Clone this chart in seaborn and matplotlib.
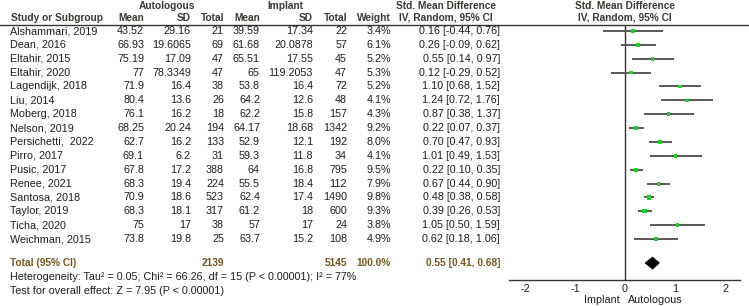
import matplotlib
matplotlib.use('Agg')
import matplotlib.pyplot as plt
import seaborn as sns
import pandas as pd
import numpy as np

# Study data
studies = ['Alshammari, 2019', 'Dean, 2016', 'Eltahir, 2015', 'Eltahir, 2020', 'Lagendijk, 2018',
           'Liu, 2014', 'Moberg, 2018', 'Nelson, 2019', 'Persichetti,  2022', 'Pirro, 2017',
           'Pusic, 2017', 'Renee, 2021', 'Santosa, 2018', 'Taylor, 2019', 'Ticha, 2020', 'Weichman, 2015']
auto_mean = [43.52, 66.93, 75.19, 77, 71.9, 80.4, 76.1, 68.25, 62.7, 69.1, 67.8, 68.3, 70.9, 68.3, 75, 73.8]
auto_sd = [29.16, 19.6065, 17.09, 78.3349, 16.4, 13.6, 16.2, 20.24, 16.2, 6.2, 17.2, 19.4, 18.6, 18.1, 17, 19.8]
auto_n = [21, 69, 47, 47, 38, 26, 18, 194, 133, 31, 388, 224, 523, 317, 38, 25]
imp_mean = [39.59, 61.68, 65.51, 65, 53.8, 64.2, 62.2, 64.17, 52.9, 59.3, 64, 55.5, 62.4, 61.2, 57, 63.7]
imp_sd = [17.34, 20.0878, 17.55, 119.2053, 16.4, 12.6, 15.8, 18.68, 12.1, 11.8, 16.8, 18.4, 17.4, 18, 17, 15.2]
imp_n = [22, 57, 45, 47, 72, 48, 157, 1342, 192, 34, 795, 112, 1490, 600, 24, 108]
weight = [3.4, 6.1, 5.2, 5.3, 5.2, 4.1, 4.3, 9.2, 8.0, 4.1, 9.5, 7.9, 9.8, 9.3, 3.8, 4.9]
smd = [0.16, 0.26, 0.55, 0.12, 1.10, 1.24, 0.87, 0.22, 0.70, 1.01, 0.22, 0.67, 0.48, 0.39, 1.05, 0.62]
ci_lo = [-0.44, -0.09, 0.14, -0.29, 0.68, 0.72, 0.38, 0.07, 0.47, 0.49, 0.10, 0.44, 0.38, 0.26, 0.50, 0.18]
ci_hi = [0.76, 0.62, 0.97, 0.52, 1.52, 1.76, 1.37, 0.37, 0.93, 1.53, 0.35, 0.90, 0.58, 0.53, 1.59, 1.06]

total_auto = 2139
total_imp = 5145
total_smd = 0.55
total_lo = 0.41
total_hi = 0.68
heterogeneity = 'Heterogeneity: Tau\u00b2 = 0.05; Chi\u00b2 = 66.26, df = 15 (P < 0.00001); I\u00b2 = 77%'
overall = 'Test for overall effect: Z = 7.95 (P < 0.00001)'
x_ticks = [-2, -1, 0, 1, 2]

df = pd.DataFrame({'study': studies, 'smd': smd, 'lo': ci_lo, 'hi': ci_hi, 'weight': weight})
df['row'] = np.arange(len(df))
total_row = 16.73

# Layout (pixels)
W, H = 749, 306
row0_px, row_step = 31, 13.87
def row_px(r):
    return row0_px + row_step * r

sns.set_style('white')
plt.rcParams['font.family'] = ['Liberation Sans', 'DejaVu Sans']
fs = 7.75
fsb = 7.3
txt_col = '#1e1e1e'
head_col = '#3a3a34'
tot_col = '#74581f'

def btext(ax, x, y, s, ha, color):
    ax.text(x, y, s, ha=ha, va='center', fontsize=fsb, fontweight='bold', color=color)

fig = plt.figure(figsize=(W / 100, H / 100), dpi=100, facecolor='white')

# Table axes in pixel coordinates
ax_t = fig.add_axes([0, 0, 1, 1])
ax_t.set_xlim(0, W)
ax_t.set_ylim(H, 0)
ax_t.axis('off')

# Headers
btext(ax_t, 167, 6, 'Autologous', 'center', head_col)
btext(ax_t, 285, 6, 'Implant', 'center', head_col)
btext(ax_t, 446, 6, 'Std. Mean Difference', 'center', head_col)
btext(ax_t, 446, 18, 'IV, Random, 95% CI', 'center', head_col)
btext(ax_t, 625, 6, 'Std. Mean Difference', 'center', head_col)
btext(ax_t, 625, 18, 'IV, Random, 95% CI', 'center', head_col)
btext(ax_t, 11, 18, 'Study or Subgroup', 'left', head_col)
col_right = [144, 191, 224, 260, 313, 347, 391]
col_names = ['Mean', 'SD', 'Total', 'Mean', 'SD', 'Total', 'Weight']
for xr, name in zip(col_right, col_names):
    btext(ax_t, xr, 18, name, 'right', head_col)
ax_t.plot([0, W], [25, 25], color='#333333', lw=1)

# Study rows
for i in range(len(studies)):
    y = row_px(i)
    ax_t.text(10, y, studies[i], ha='left', va='center', fontsize=fs, color=txt_col)
    vals = [str(auto_mean[i]), str(auto_sd[i]), str(auto_n[i]), str(imp_mean[i]),
            str(imp_sd[i]), str(imp_n[i]), f'{weight[i]:.1f}%']
    for xr, v in zip(col_right, vals):
        ax_t.text(xr, y, v, ha='right', va='center', fontsize=fs, color=txt_col)
    ax_t.text(500, y, f'{smd[i]:.2f} [{ci_lo[i]:.2f}, {ci_hi[i]:.2f}]',
              ha='right', va='center', fontsize=fs, color=txt_col)

# Total row
yt = row_px(total_row)
btext(ax_t, 10, yt, 'Total (95% CI)', 'left', tot_col)
btext(ax_t, 224, yt, str(total_auto), 'right', tot_col)
btext(ax_t, 347, yt, str(total_imp), 'right', tot_col)
btext(ax_t, 391, yt, '100.0%', 'right', tot_col)
btext(ax_t, 500, yt, f'{total_smd:.2f} [{total_lo:.2f}, {total_hi:.2f}]', 'right', tot_col)
ax_t.text(10, 277, heterogeneity, ha='left', va='center', fontsize=fs, color=txt_col)
ax_t.text(10, 291, overall, ha='left', va='center', fontsize=fs, color=txt_col)

# Forest plot axes
x_left, x_right, y_top, y_bot = 509, 740, 25, 280
ax_f = fig.add_axes([x_left / W, 1 - y_bot / H, (x_right - x_left) / W, (y_bot - y_top) / H])
ax_f.set_facecolor('none')
ax_f.set_xlim(-2.32, 2.3)
ax_f.set_ylim((y_bot - row0_px) / row_step, (y_top - row0_px) / row_step)

ax_f.hlines(df['row'], df['lo'], df['hi'], color='#595959', lw=1.4, zorder=2)
sns.scatterplot(data=df, x='smd', y='row', size='weight', sizes=(6, 9), marker='s',
                color='#1fd11f', edgecolor='none', legend=False, ax=ax_f, zorder=3)
ax_f.axvline(0, color='#333333', lw=1, zorder=1)

# Diamond for pooled estimate
dh = 0.4
ax_f.fill([total_lo, total_smd, total_hi, total_smd], [total_row, total_row - dh, total_row, total_row + dh],
          color='black', zorder=3)

for s in ['top', 'left', 'right']:
    ax_f.spines[s].set_visible(False)
ax_f.spines['bottom'].set_color('#333333')
ax_f.spines['bottom'].set_linewidth(1)
ax_f.set_yticks([])
ax_f.set_xticks(x_ticks)
ax_f.set_xticklabels([str(t) for t in x_ticks])
ax_f.tick_params(axis='x', direction='inout', length=8, width=1, color='#333333',
                 labelsize=fs, labelcolor=txt_col, pad=-1)
ax_f.set_xlabel('')
ax_f.set_ylabel('')

# Favours labels
ax_t.text(620, 300, 'Implant', ha='right', va='center', fontsize=fs, color=txt_col)
ax_t.text(628, 300, 'Autologous', ha='left', va='center', fontsize=fs, color=txt_col)

plt.savefig('out.png', dpi=100, facecolor='white')
plt.close()
